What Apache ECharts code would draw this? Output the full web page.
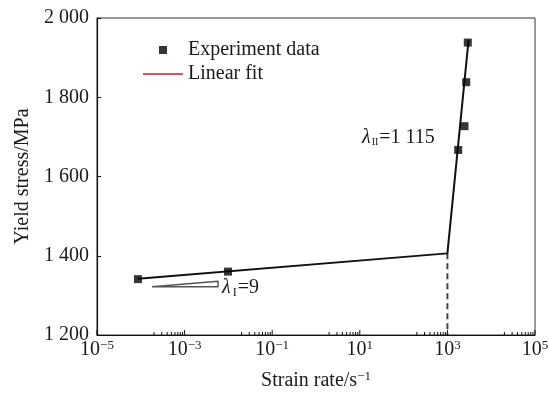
<!DOCTYPE html>
<html>
<head>
<meta charset="utf-8">
<script src="https://cdn.jsdelivr.net/npm/echarts@6/dist/echarts.min.js"></script>
<style>
html,body{margin:0;padding:0;background:#fff;}
#chart{width:549px;height:394px;}
</style>
</head>
<body>
<div id="chart"></div>
<script>
// ---- data ----
var expRate   = [8.6e-5, 9.8e-3, 1763, 2455, 2690, 2920];
var expStress = [1341, 1360, 1667, 1727, 1838, 1938];
var fitRate   = [8.6e-5, 1000, 3040];
var fitStress = [1342, 1406, 1944];
var transitionRate = 1000;
var transitionStress = 1406;
var slopeI = 9;            // λI (MPa per decade)
var triRate = [1.8e-4, 5.8e-3];
var triBase = 1322;
var yTicks = [1200, 1400, 1600, 1800, 2000];
var xMajorTicks = [1e-5, 1e-3, 1e-1, 1e1, 1e3, 1e5];
var xMinorDecades = [1e-4, 1e-2, 1, 1e2, 1e4];
var legendNames = ['Experiment data', 'Linear fit'];

var FONT = '"Liberation Serif", "Times New Roman", serif';
var TXT = '#1a1a1a';

var expData = expRate.map(function (r, i) { return [r, expStress[i]]; });
var fitData = fitRate.map(function (r, i) { return [r, fitStress[i]]; });
var dashData = [[transitionRate, transitionStress], [transitionRate, yTicks[0]]];
var triTop = triBase + slopeI * Math.log10(triRate[1] / triRate[0]);
var triData = [[triRate[0], triBase], [triRate[1], triBase], [triRate[1], triTop], [triRate[0], triBase]];

var tickData = [];
xMajorTicks.forEach(function (v) { tickData.push([v, yTicks[0], 5]); });
xMinorDecades.forEach(function (d) {
  for (var k = 2; k <= 9; k++) tickData.push([k * d, yTicks[0], 3]);
});

function fmtThousands(v) {
  var s = String(v);
  return s.length > 3 ? s.slice(0, s.length - 3) + ' ' + s.slice(s.length - 3) : s;
}

var chart = echarts.init(document.getElementById('chart'), null, {renderer: 'canvas'});
chart.setOption({
  backgroundColor: '#fff',
  animation: false,
  grid: {left: 97, right: 14, top: 18, bottom: 59, show: true, borderColor: '#333', borderWidth: 1,
         containLabel: false, outerBoundsMode: 'none'},
  legend: {
    orient: 'vertical', left: 143, top: 40, padding: 0,
    itemWidth: 40, itemHeight: 8, itemGap: 4,
    textStyle: {fontFamily: FONT, fontSize: 20, color: TXT, lineHeight: 20},
    data: [
      {name: legendNames[0], icon: 'path://M0,0H1V1H0Z'},
      {name: legendNames[1], icon: 'path://M0,0H20V1H0Z', itemStyle: {color: '#d65562', borderWidth: 0}}
    ]
  },
  xAxis: {
    type: 'log', logBase: 10, min: 1e-5, max: 1e5, interval: 1, splitNumber: 10,
    axisLine: {onZero: false, lineStyle: {color: '#111', width: 1.2}},
    axisTick: {show: false},
    splitLine: {show: false},
    axisLabel: {
      margin: 4, color: TXT, fontFamily: FONT, hideOverlap: false,
      formatter: function (v) {
        var e = Math.round(Math.log10(v));
        if (Math.abs(e) % 2 === 0) return '';
        return '{b|10}{s|' + (e < 0 ? '\u2212' + (-e) : e) + '}';
      },
      rich: {
        b: {fontSize: 20, fontFamily: FONT, color: TXT, lineHeight: 22},
        s: {fontSize: 13, fontFamily: FONT, color: TXT, verticalAlign: 'top', lineHeight: 13}
      }
    },
    name: '{b|Strain rate/s}{s|\u22121}',
    nameLocation: 'middle', nameGap: 35,
    nameTextStyle: {
      rich: {
        b: {fontSize: 20, fontFamily: FONT, color: TXT, lineHeight: 22},
        s: {fontSize: 13, fontFamily: FONT, color: TXT, verticalAlign: 'top', lineHeight: 13}
      }
    }
  },
  yAxis: {
    type: 'value', min: yTicks[0], max: yTicks[yTicks.length - 1], interval: 200,
    axisLine: {show: true, lineStyle: {color: '#111', width: 1.2}},
    axisTick: {show: true, inside: true, length: 4, lineStyle: {color: '#111'}},
    splitLine: {show: false},
    axisLabel: {margin: 8, color: TXT, fontFamily: FONT, fontSize: 20, formatter: fmtThousands},
    name: 'Yield stress/MPa', nameLocation: 'middle', nameGap: 63,
    nameTextStyle: {fontFamily: FONT, fontSize: 20, color: TXT}
  },
  series: [
    {
      name: legendNames[1], type: 'line', data: fitData, symbol: 'none', silent: true,
      lineStyle: {color: '#111', width: 2}, itemStyle: {color: '#111'}, z: 3
    },
    {
      name: 'transition', type: 'line', data: dashData, symbol: 'none', silent: true,
      lineStyle: {color: '#444', width: 2, type: [6, 4]}, z: 2
    },
    {
      name: 'slope', type: 'line', data: triData, symbol: 'none', silent: true,
      lineStyle: {color: '#555', width: 1.5}, z: 2
    },
    {
      name: legendNames[0], type: 'scatter', data: expData, symbol: 'rect', symbolSize: 8,
      itemStyle: {color: '#050505'}, z: 4
    },
    {
      name: 'ticks', type: 'custom', data: tickData, silent: true, clip: false, z: 5,
      encode: {x: 0, y: 1},
      renderItem: function (params, api) {
        var p = api.coord([api.value(0), api.value(1)]);
        var len = api.value(2);
        return {type: 'line', shape: {x1: p[0], y1: p[1], x2: p[0], y2: p[1] - len},
                style: {stroke: '#111', lineWidth: 1}};
      }
    }
  ],
  graphic: [
    {
      type: 'text', silent: true,
      style: {
        x: 362, y: 138, verticalAlign: 'middle',
        text: '{l|\u03bb}{sub|II}{t|=1 115}',
        rich: {
          l: {fontSize: 20, fontFamily: FONT, fontStyle: 'italic', fill: TXT},
          sub: {fontSize: 10, fontFamily: FONT, fill: TXT, padding: [9, 1, 0, 1]},
          t: {fontSize: 20, fontFamily: FONT, fill: TXT}
        }
      }
    },
    {
      type: 'text', silent: true,
      style: {
        x: 222, y: 288, verticalAlign: 'middle',
        text: '{l|\u03bb}{sub|I}{t|=9}',
        rich: {
          l: {fontSize: 20, fontFamily: FONT, fontStyle: 'italic', fill: TXT},
          sub: {fontSize: 12, fontFamily: FONT, fill: TXT, padding: [9, 1, 0, 2]},
          t: {fontSize: 20, fontFamily: FONT, fill: TXT}
        }
      }
    }
  ]
});
</script>
</body>
</html>
